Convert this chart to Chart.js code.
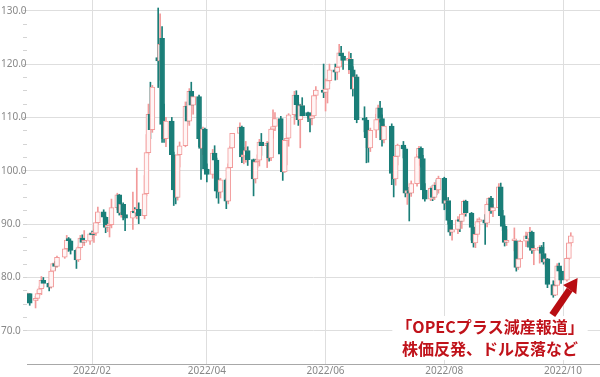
<!DOCTYPE html>
<html lang="ja">
<head>
<meta charset="utf-8">
<title>WTI原油先物 日足</title>
<script src="https://cdn.jsdelivr.net/npm/chart.js@4"></script>
<style>
  html, body { margin: 0; padding: 0; background: #fff; }
  #wrap { width: 600px; height: 377px; position: relative; }
</style>
</head>
<body>
<div id="wrap"><canvas id="chart"></canvas></div>
<script>
// daily candles, Dec 30 2021 .. Oct 5 2022
const dates = [
  '2021-12-30','2021-12-31',
  '2022-01-03','2022-01-04','2022-01-05','2022-01-06','2022-01-07','2022-01-10','2022-01-11','2022-01-12','2022-01-13','2022-01-14',
  '2022-01-18','2022-01-19','2022-01-20','2022-01-21','2022-01-24','2022-01-25','2022-01-26','2022-01-27','2022-01-28','2022-01-31',
  '2022-02-01','2022-02-02','2022-02-03','2022-02-04','2022-02-07','2022-02-08','2022-02-09','2022-02-10','2022-02-11','2022-02-14',
  '2022-02-15','2022-02-16','2022-02-17','2022-02-18','2022-02-22','2022-02-23','2022-02-24','2022-02-25','2022-02-28',
  '2022-03-01','2022-03-02','2022-03-03','2022-03-04','2022-03-07','2022-03-08','2022-03-09','2022-03-10','2022-03-11','2022-03-14',
  '2022-03-15','2022-03-16','2022-03-17','2022-03-18','2022-03-21','2022-03-22','2022-03-23','2022-03-24','2022-03-25','2022-03-28',
  '2022-03-29','2022-03-30','2022-03-31',
  '2022-04-01','2022-04-04','2022-04-05','2022-04-06','2022-04-07','2022-04-08','2022-04-11','2022-04-12','2022-04-13','2022-04-14',
  '2022-04-18','2022-04-19','2022-04-20','2022-04-21','2022-04-22','2022-04-25','2022-04-26','2022-04-27','2022-04-28','2022-04-29',
  '2022-05-02','2022-05-03','2022-05-04','2022-05-05','2022-05-06','2022-05-09','2022-05-10','2022-05-11','2022-05-12','2022-05-13',
  '2022-05-16','2022-05-17','2022-05-18','2022-05-19','2022-05-20','2022-05-23','2022-05-24','2022-05-25','2022-05-26','2022-05-27',
  '2022-05-31',
  '2022-06-01','2022-06-02','2022-06-03','2022-06-06','2022-06-07','2022-06-08','2022-06-09','2022-06-10','2022-06-13','2022-06-14',
  '2022-06-15','2022-06-16','2022-06-17','2022-06-21','2022-06-22','2022-06-23','2022-06-24','2022-06-27','2022-06-28','2022-06-29',
  '2022-06-30',
  '2022-07-01','2022-07-05','2022-07-06','2022-07-07','2022-07-08','2022-07-11','2022-07-12','2022-07-13','2022-07-14','2022-07-15',
  '2022-07-18','2022-07-19','2022-07-20','2022-07-21','2022-07-22','2022-07-25','2022-07-26','2022-07-27','2022-07-28','2022-07-29',
  '2022-08-01','2022-08-02','2022-08-03','2022-08-04','2022-08-05','2022-08-08','2022-08-09','2022-08-10','2022-08-11','2022-08-12',
  '2022-08-15','2022-08-16','2022-08-17','2022-08-18','2022-08-19','2022-08-22','2022-08-23','2022-08-24','2022-08-25','2022-08-26',
  '2022-08-29','2022-08-30','2022-08-31',
  '2022-09-01','2022-09-02','2022-09-06','2022-09-07','2022-09-08','2022-09-09','2022-09-12','2022-09-13','2022-09-14','2022-09-15',
  '2022-09-16','2022-09-19','2022-09-20','2022-09-21','2022-09-22','2022-09-23','2022-09-26','2022-09-27','2022-09-28','2022-09-29',
  '2022-09-30',
  '2022-10-03','2022-10-04','2022-10-05'
];
const open = [
  76.6, 77.0,
  75.7, 76.1, 77.0, 77.9, 79.5, 78.9, 78.2, 81.2, 82.6, 82.1, 83.8, 85.4, 87.3, 86.9, 85.1, 83.3, 85.6, 87.4, 86.6, 86.8,
  88.2, 88.2, 88.3, 90.3, 92.3, 91.3, 89.4, 89.7, 89.9, 93.1, 95.5, 92.1, 93.7, 91.8, 91.1, 92.4, 92.1, 92.8, 91.6,
  95.7, 103.4, 110.6, 107.7, 121.2, 120.6, 124.8, 108.7, 106.0, 109.3, 103.0, 96.4, 95.0, 103.0, 104.7, 112.1, 109.3, 114.9, 112.3, 113.9, 106.0, 104.2, 107.8,
  100.3, 99.3, 103.3, 102.0, 96.2, 96.0, 98.3, 94.3, 100.6, 104.3, 107.0, 108.2, 102.6, 102.8, 103.8, 102.1, 98.5, 101.7, 102.0, 105.4,
  104.7, 105.2, 102.4, 107.8, 108.3, 109.8, 103.1, 99.8, 105.7, 106.1, 110.5, 114.2, 112.4, 109.6, 112.2, 110.9, 110.3, 109.8, 110.3, 114.1, 115.1,
  114.7, 115.3, 116.9, 118.9, 118.5, 119.4, 122.1, 121.5, 120.7, 120.9, 118.9, 115.3, 117.6, 109.6, 109.5, 106.2, 104.3, 107.6, 109.6, 111.8, 109.8,
  105.8, 108.4, 99.5, 98.5, 102.7, 104.8, 104.1, 95.8, 96.3, 95.8, 97.6, 102.6, 104.2, 102.3, 96.4, 94.7, 96.7, 95.0, 97.3, 96.4,
  98.6, 93.9, 94.4, 90.7, 88.5, 89.0, 90.8, 90.5, 91.9, 94.3, 92.1, 89.4, 86.5, 88.1, 90.5, 90.8, 90.2, 93.7, 94.9, 92.5, 93.1, 97.0, 91.6,
  89.6, 86.6, 86.9, 86.9, 81.9, 83.5, 86.8, 87.8, 87.3, 88.5, 85.1, 85.1, 85.7, 84.5, 82.9, 83.5, 78.7, 76.7, 78.5, 82.2, 81.2,
  79.5, 83.6, 86.5
];
const high = [
  77.1, 77.0,
  76.5, 77.6, 78.3, 80.2, 80.0, 79.0, 81.5, 82.7, 83.0, 84.0, 85.7, 87.9, 87.5, 86.9, 85.3, 85.9, 87.9, 88.0, 88.8, 88.2,
  88.7, 89.0, 90.4, 93.2, 92.7, 91.4, 90.2, 90.8, 94.7, 95.8, 95.6, 93.8, 94.0, 92.5, 96.0, 93.1, 100.5, 94.0, 99.1,
  106.8, 112.5, 116.6, 116.0, 130.5, 129.4, 127.0, 112.5, 110.0, 110.0, 103.5, 97.0, 103.2, 105.4, 112.9, 112.9, 115.4, 116.6, 114.8, 114.2, 106.4, 108.2, 108.0,
  101.3, 104.0, 104.7, 102.4, 98.5, 98.6, 98.5, 101.3, 104.6, 107.0, 109.0, 108.4, 104.4, 105.5, 104.5, 102.2, 102.2, 103.0, 105.9, 107.0,
  105.5, 105.4, 108.0, 111.4, 110.9, 110.2, 103.9, 106.0, 107.0, 110.7, 114.9, 115.0, 112.8, 112.5, 113.7, 111.0, 110.8, 111.3, 114.4, 115.8, 120.0,
  117.2, 117.2, 120.0, 120.0, 119.6, 123.7, 123.3, 122.0, 122.3, 122.0, 119.5, 118.0, 118.0, 112.0, 110.0, 107.0, 108.0, 110.6, 112.3, 113.0, 110.5,
  108.7, 108.8, 101.0, 103.0, 105.0, 105.5, 104.4, 97.9, 96.9, 98.1, 103.1, 104.6, 104.5, 102.9, 97.6, 97.0, 97.3, 97.8, 98.3, 99.0,
  98.8, 95.4, 95.0, 91.8, 89.5, 91.4, 91.0, 92.3, 94.5, 94.5, 92.2, 89.5, 88.5, 91.0, 91.2, 91.8, 94.2, 95.0, 95.2, 93.7, 97.6, 97.7, 92.6,
  89.9, 89.0, 89.3, 87.0, 84.0, 87.0, 88.5, 88.2, 89.4, 88.7, 86.0, 86.0, 86.0, 86.6, 84.4, 83.6, 79.4, 79.3, 82.6, 82.7, 81.6,
  83.9, 86.9, 88.4
];
const low = [
  75.8, 74.8,
  74.3, 75.7, 76.7, 76.8, 78.2, 77.5, 78.0, 80.9, 81.4, 81.9, 83.6, 84.9, 84.9, 84.4, 81.7, 83.0, 85.2, 86.3, 86.0, 86.2,
  87.3, 86.6, 87.9, 90.0, 90.4, 88.4, 88.6, 87.6, 89.3, 92.7, 91.7, 91.3, 90.8, 88.8, 89.0, 91.4, 91.0, 90.1, 91.0,
  95.3, 103.0, 106.0, 107.2, 115.6, 117.0, 105.3, 105.3, 104.5, 99.8, 93.5, 93.8, 94.5, 100.7, 104.5, 108.8, 108.5, 110.6, 110.6, 104.5, 98.4, 103.0, 99.9,
  97.9, 98.6, 100.4, 94.9, 93.9, 94.9, 92.9, 93.8, 99.6, 102.4, 106.1, 101.5, 101.3, 101.6, 101.0, 95.3, 97.7, 100.6, 100.9, 102.9,
  100.6, 101.8, 101.9, 106.1, 107.5, 102.6, 98.2, 99.7, 101.1, 104.6, 108.7, 110.2, 108.5, 104.3, 109.9, 109.2, 107.3, 108.6, 109.9, 113.4, 113.7,
  111.2, 112.7, 116.4, 117.0, 117.1, 119.0, 119.6, 119.0, 118.2, 117.6, 114.0, 113.8, 109.0, 107.3, 101.5, 101.6, 103.6, 106.2, 109.2, 109.1, 104.6,
  105.2, 97.4, 95.1, 97.3, 101.1, 102.4, 95.1, 93.7, 90.6, 95.2, 97.1, 101.0, 100.7, 95.8, 94.3, 94.4, 94.4, 94.6, 95.5, 95.8,
  92.7, 92.9, 90.0, 87.9, 87.0, 88.2, 88.6, 89.2, 91.4, 91.5, 87.0, 85.7, 85.6, 87.6, 88.9, 86.2, 89.5, 92.8, 92.0, 91.4, 92.8, 91.1, 88.8,
  85.9, 86.0, 85.0, 81.2, 81.5, 83.3, 85.8, 85.7, 86.3, 84.5, 82.4, 82.7, 83.5, 82.5, 82.1, 78.1, 76.3, 76.6, 78.0, 80.3, 78.9,
  79.3, 83.4, 85.9
];
const close = [
  77.0, 75.2,
  76.1, 77.0, 77.9, 79.5, 78.9, 78.2, 81.2, 82.6, 82.1, 83.8, 85.4, 87.0, 86.9, 85.1, 83.3, 85.6, 87.4, 86.6, 86.8, 88.2,
  88.0, 88.3, 90.3, 92.3, 91.3, 89.4, 89.7, 89.9, 93.1, 95.5, 92.1, 93.7, 91.8, 91.1, 92.4, 92.1, 92.8, 91.6, 95.7,
  103.4, 110.6, 107.7, 115.7, 120.6, 123.7, 108.7, 106.0, 109.3, 103.0, 96.4, 95.0, 103.0, 104.7, 112.1, 109.3, 114.9, 112.3, 113.9, 106.0, 104.2, 107.8, 100.3,
  99.3, 103.3, 102.0, 96.2, 96.0, 98.3, 94.3, 100.6, 104.3, 107.0, 108.2, 102.6, 102.8, 103.8, 102.1, 98.5, 101.7, 102.0, 105.4, 104.7,
  105.2, 102.4, 107.8, 108.3, 109.8, 103.1, 99.8, 105.7, 106.1, 110.5, 114.2, 112.4, 109.6, 112.2, 110.3, 110.3, 109.8, 110.3, 114.1, 115.1, 114.7,
  115.3, 116.9, 118.9, 118.5, 119.4, 122.1, 121.5, 120.7, 120.9, 118.9, 115.3, 117.6, 109.6, 109.5, 106.2, 104.3, 107.6, 109.6, 111.8, 109.8, 105.8,
  108.4, 99.5, 98.5, 102.7, 104.8, 104.1, 95.8, 96.3, 95.8, 97.6, 102.6, 104.2, 102.3, 96.4, 94.7, 96.7, 95.0, 97.3, 96.4, 98.6,
  93.9, 94.4, 90.7, 88.5, 89.0, 90.8, 90.5, 91.9, 94.3, 92.1, 89.4, 86.5, 88.1, 90.5, 90.8, 90.2, 93.7, 94.9, 92.5, 93.1, 97.0, 91.6, 89.6,
  86.6, 86.9, 86.9, 81.9, 83.5, 86.8, 87.8, 87.3, 88.5, 85.1, 85.1, 85.7, 84.5, 82.9, 83.5, 78.7, 76.7, 78.5, 82.2, 81.2, 79.5,
  83.6, 86.5, 87.8
];

const xTickLabels = ['2022/02', '2022/04', '2022/06', '2022/08', '2022/10'];
const yTicks = [70, 72.5, 75, 77.5, 80, 82.5, 85, 87.5, 90, 92.5, 95, 97.5, 100, 102.5, 105, 107.5, 110, 112.5, 115, 117.5, 120, 122.5, 125, 127.5, 130];

const noteLines = ['「OPECプラス減産報道」', '株価反発、ドル反落など'];
const noteArrow = { from: [268.5, 73.0], to: [281.5, 79.9] }; // day, price

const UP = '#f29a9a';
const UP_FILL = '#fff5f5';
const DOWN = '#1a7e78';
const NOTE = '#c0121a';

// day number counted from 2021-12-31 (= 0)
const base = Date.UTC(2022, 0, 0);
const dayOf = (y, m, d) => Math.round((Date.UTC(y, m - 1, d) - base) / 864e5);
const days = dates.map(s => dayOf(+s.slice(0, 4), +s.slice(5, 7), +s.slice(8, 10)));
const xTickDays = xTickLabels.map(s => dayOf(+s.slice(0, 4), +s.slice(5, 7), 1));

const isUp = dates.map((_, i) => close[i] >= open[i]);

Chart.defaults.font.family = "'Noto Sans', 'Open Sans', sans-serif";

const note = {
  id: 'note',
  afterDatasetsDraw(chart) {
    const { ctx, chartArea, scales: { x, y } } = chart;
    ctx.save();
    ctx.font = "bold 16px 'Noto Sans CJK JP'";
    const cx = chartArea.right - 110;
    const y1 = chartArea.bottom - 37, y2 = chartArea.bottom - 15;
    const w = Math.max(...noteLines.map(t => ctx.measureText(t).width)) + 8;
    ctx.fillStyle = '#fff';
    ctx.fillRect(cx - w / 2, y1 - 11, w, y2 - y1 + 22);
    ctx.fillStyle = NOTE;
    ctx.textAlign = 'center';
    ctx.textBaseline = 'middle';
    ctx.fillText(noteLines[0], cx, y1);
    ctx.fillText(noteLines[1], cx, y2);

    const x0 = x.getPixelForValue(noteArrow.from[0]), y0 = y.getPixelForValue(noteArrow.from[1]);
    const x1 = x.getPixelForValue(noteArrow.to[0]), y1a = y.getPixelForValue(noteArrow.to[1]);
    const a = Math.atan2(y1a - y0, x1 - x0);
    const headLen = 14, headW = 8;
    const bx = x1 - headLen * Math.cos(a), by = y1a - headLen * Math.sin(a);
    ctx.strokeStyle = '#b80d12';
    ctx.fillStyle = '#b80d12';
    ctx.lineWidth = 7;
    ctx.beginPath();
    ctx.moveTo(x0, y0);
    ctx.lineTo(bx, by);
    ctx.stroke();
    ctx.beginPath();
    ctx.moveTo(x1, y1a);
    ctx.lineTo(bx + headW * Math.sin(a), by - headW * Math.cos(a));
    ctx.lineTo(bx - headW * Math.sin(a), by + headW * Math.cos(a));
    ctx.closePath();
    ctx.fill();
    ctx.restore();
  }
};

new Chart(document.getElementById('chart'), {
  type: 'bar',
  data: {
    datasets: [{
      // bodies (drawn on top)
      data: days.map((d, i) => ({ x: d, y: [open[i], close[i]] })),
      backgroundColor: isUp.map(u => u ? UP_FILL : DOWN),
      borderColor: isUp.map(u => u ? UP : DOWN),
      borderWidth: 1,
      borderSkipped: false,
      barThickness: 5,
      minBarLength: 2,
      grouped: false
    }, {
      // wicks
      data: days.map((d, i) => ({ x: d, y: [low[i], high[i]] })),
      backgroundColor: isUp.map(u => u ? UP : DOWN),
      borderWidth: 0,
      barThickness: 1,
      grouped: false
    }]
  },
  options: {
    responsive: true,
    maintainAspectRatio: false,
    animation: false,
    layout: { padding: { left: 1, right: 0, top: 0, bottom: 0 } },
    plugins: { legend: { display: false }, tooltip: { enabled: false } },
    scales: {
      x: {
        type: 'linear',
        offset: false,
        min: -1.4,
        max: 293,
        afterBuildTicks: s => { s.ticks = xTickDays.map(v => ({ value: v })); },
        afterFit: s => { s.height = 13; s.paddingLeft = 0; s.paddingRight = 0; },
        ticks: { color: '#888', font: { size: 10 }, padding: 1, maxRotation: 0, autoSkip: false,
          callback: (v, i) => xTickLabels[i] },
        grid: { color: '#dedede', drawTicks: false, offset: false },
        border: { display: true, color: '#a8a8a8' }
      },
      y: {
        min: 63.8,
        max: 132,
        afterBuildTicks: s => { s.ticks = yTicks.map(v => ({ value: v })); },
        afterFit: s => { s.width = 26; s.paddingTop = 0; s.paddingBottom = 0; },
        ticks: { color: '#888', font: { size: 10 }, crossAlign: 'far', padding: 0, autoSkip: false,
          callback: v => v % 10 === 0 ? v.toFixed(1) : '' },
        grid: {
          color: c => c.tick && c.tick.value % 10 === 0 ? '#dedede' : 'rgba(0,0,0,0)',
          tickColor: '#d4d4d4',
          tickLength: 4
        },
        border: { display: false }
      }
    }
  },
  plugins: [note]
});
</script>
</body>
</html>
